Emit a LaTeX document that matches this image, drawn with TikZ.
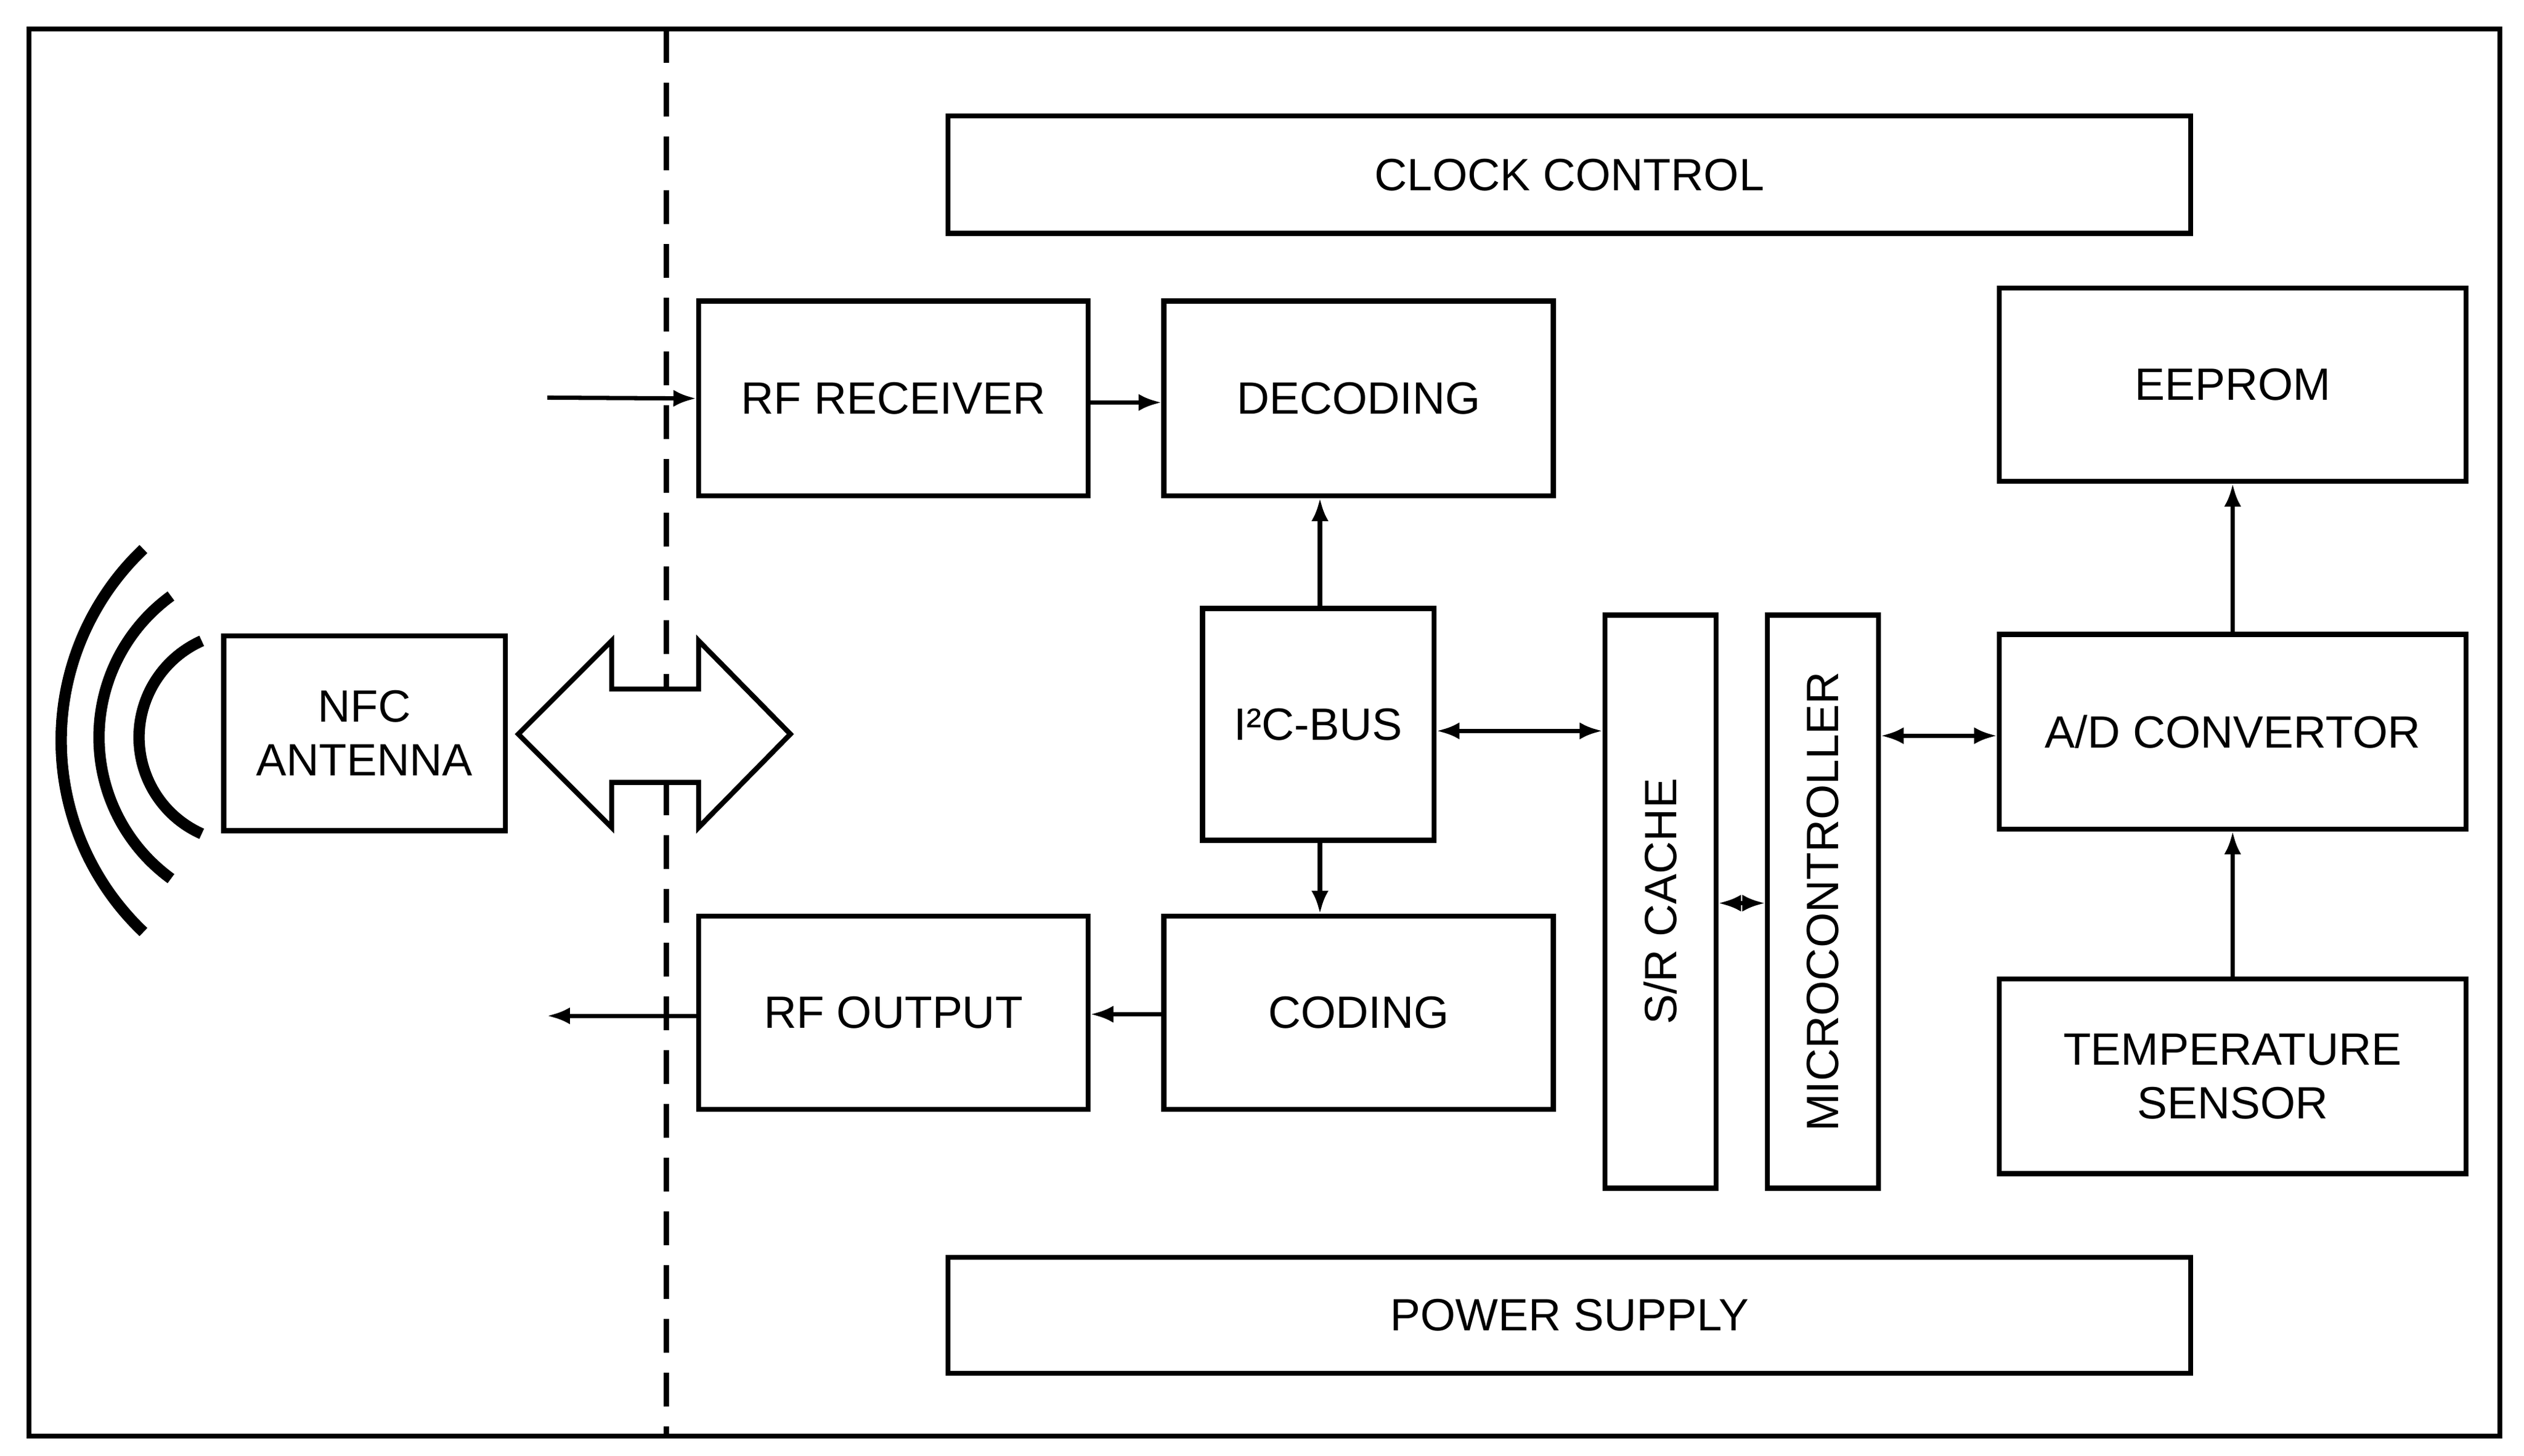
\documentclass[tikz,border=0pt]{standalone}
\usepackage{fontspec}
\setmainfont{Liberation Sans}
\usetikzlibrary{arrows.meta}
\begin{document}
\begin{tikzpicture}[x=0.02cm,y=-0.02cm,
  box/.style={draw,line width=1.8pt,inner sep=0pt,font=\fontsize{16}{19}\selectfont,align=center},
  ar/.style={line width=1.5pt,-{Latex[length=8pt,width=6pt]}},
  dar/.style={line width=1.5pt,{Latex[length=8pt,width=6pt]}-{Latex[length=8pt,width=6pt]}}]
\useasboundingbox (0,0) rectangle (1568,904.4);
\draw[line width=1.8pt] (18,18) rectangle (1553,892);
\draw[line width=1.8pt,dash pattern=on 12pt off 7pt] (414,18) -- (414,892);
\newcommand{\bx}[5]{\node[box,minimum width={(#4-#2)*0.02cm},minimum height={(#5-#3)*0.02cm}] (#1) at ({(#2+#4)/2},{(#3+#5)/2}) {};}
\bx{clk}{589}{72}{1361}{145}\node[font=\fontsize{16}{19}\selectfont] at (clk) {CLOCK CONTROL};
\bx{rfr}{434}{187}{676}{308}\node[font=\fontsize{16}{19}\selectfont] at (rfr) {RF RECEIVER};
\bx{dec}{723}{187}{965}{308}\node[font=\fontsize{16}{19}\selectfont] at (dec) {DECODING};
\bx{eep}{1242}{179}{1532}{299}\node[font=\fontsize{16}{19}\selectfont] at (eep) {EEPROM};
\bx{nfc}{139}{395}{314}{516}\node[font=\fontsize{16}{19}\selectfont,align=center] at (nfc) {NFC\\ANTENNA};
\bx{i2c}{747}{378}{891}{522}\node[font=\fontsize{16}{19}\selectfont] at (i2c) {I²C-BUS};
\bx{sr}{997}{382}{1066}{738}\node[font=\fontsize{16}{19}\selectfont,rotate=90] at (sr) {S/R CACHE};
\bx{mc}{1098}{382}{1167}{738}\node[font=\fontsize{16}{19}\selectfont,rotate=90] at (mc) {MICROCONTROLLER};
\bx{ad}{1242}{394}{1532}{515}\node[font=\fontsize{16}{19}\selectfont] at (ad) {A/D CONVERTOR};
\bx{ts}{1242}{608}{1532}{729}\node[font=\fontsize{16}{19}\selectfont,align=center] at (ts) {TEMPERATURE\\SENSOR};
\bx{rfo}{434}{569}{676}{689}\node[font=\fontsize{16}{19}\selectfont] at (rfo) {RF OUTPUT};
\bx{cod}{723}{569}{965}{689}\node[font=\fontsize{16}{19}\selectfont] at (cod) {CODING};
\bx{pow}{589}{781}{1361}{853}\node[font=\fontsize{16}{19}\selectfont] at (pow) {POWER SUPPLY};
% double arrow
\draw[line width=1.8pt,fill=white] (322,456) -- (380,398) -- (380,428) -- (434,428) -- (434,398) -- (491,456) -- (434,514) -- (434,486) -- (380,486) -- (380,514) -- cycle;
% waves
\draw[line width=4pt] (202,460) ++(133.5:164) arc[start angle=133.5,end angle=226.5,radius=164];
\draw[line width=4pt] (170,458) ++(126:108.5) arc[start angle=126,end angle=234,radius=108.5];
\draw[line width=4pt] (152,458) ++(114:65.6) arc[start angle=114,end angle=246,radius=65.6];
% connectors
\coordinate (in) at (340,247); \coordinate (out) at (340,631);
\draw[ar] (in) -- (rfr.west);
\draw[ar] (rfr.east |- 0,250) -- (dec.west |- 0,250);
\draw[ar] (i2c.north -| 820,0) -- (dec.south -| 820,0);
\draw[ar] (i2c.south -| 820,0) -- (cod.north -| 820,0);
\draw[dar] (i2c.east |- 0,454) -- (sr.west |- 0,454);
\draw[dar] (sr.east |- 0,561) -- (mc.west |- 0,561);
\draw[dar] (mc.east |- 0,457) -- (ad.west |- 0,457);
\draw[ar] (ad.north -| 1387,0) -- (eep.south -| 1387,0);
\draw[ar] (ts.north -| 1387,0) -- (ad.south -| 1387,0);
\draw[ar] (cod.west |- 0,630) -- (rfo.east |- 0,630);
\draw[ar] (rfo.west |- 0,631) -- (out);
\end{tikzpicture}
\end{document}
